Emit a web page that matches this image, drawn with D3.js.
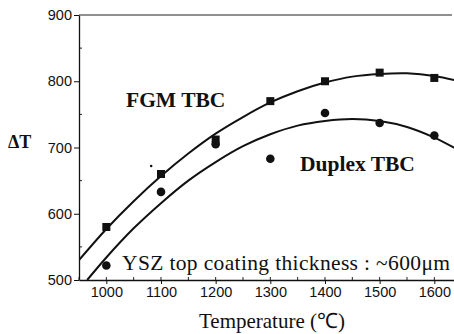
<!DOCTYPE html>
<html>
<head>
<meta charset="utf-8">
<script src="https://cdn.jsdelivr.net/npm/d3@7"></script>
<style>
  body { margin: 0; background: #fff; }
  svg text { fill: #111; }
</style>
</head>
<body>
<div id="chart"></div>
<script>
// measured points
const temps = [1000, 1100, 1200, 1300, 1400, 1500, 1600];
const fgmValues = [580, 660, 712, 770, 800, 813, 805];
const duplexValues = [522, 633, 705, 683, 752, 737, 718];

// fitted curves
const fgmFitT = [950, 1000, 1050, 1100, 1150, 1200, 1250, 1300, 1350, 1400, 1450, 1500, 1550, 1600, 1640];
const fgmFitV = [530, 577, 619, 657, 691, 721, 746, 768, 785, 798, 807, 811, 812, 808, 801];
const duplexFitT = [965, 1000, 1050, 1100, 1150, 1200, 1250, 1300, 1350, 1400, 1450, 1500, 1550, 1600, 1640];
const duplexFitV = [500, 534, 578, 616, 650, 678, 702, 720, 733, 740, 743, 740, 731, 715, 698];

// stray dot in the scan
const strayT = [1082];
const strayV = [672];

const xTicks = [1000, 1100, 1200, 1300, 1400, 1500, 1600];
const yTicks = [500, 600, 700, 800, 900];

const W = 454, H = 334;
const margin = {top: 15, right: 0, bottom: 54, left: 79};
const iw = W - margin.left - margin.right;
const ih = H - margin.top - margin.bottom;

const svg = d3.select('#chart').append('svg')
    .attr('width', W)
    .attr('height', H);

const x = d3.scaleLinear().domain([950, 1636]).range([0, iw]);
const y = d3.scaleLinear().domain([500, 900]).range([ih, 0]);

const g = svg.append('g')
    .attr('transform', `translate(${margin.left},${margin.top})`);

// clip so curves stop at the frame
g.append('clipPath').attr('id', 'clip')
    .append('rect').attr('width', iw).attr('height', ih);

// minor ticks (inward)
const xMinor = d3.range(950, 1650, 50);
const yMinor = d3.range(550, 900, 100);
g.selectAll('.xminor').data(xMinor).enter().append('line')
    .attr('x1', d => x(d)).attr('x2', d => x(d))
    .attr('y1', ih).attr('y2', ih - 3)
    .attr('stroke', '#222').attr('stroke-width', 1);
g.selectAll('.yminor').data(yMinor).enter().append('line')
    .attr('x1', 0).attr('x2', 3)
    .attr('y1', d => y(d)).attr('y2', d => y(d))
    .attr('stroke', '#222').attr('stroke-width', 1);

// axes
const xAxis = g.append('g')
    .attr('transform', `translate(0,${ih})`)
    .call(d3.axisBottom(x).tickValues(xTicks).tickFormat(d3.format('d'))
        .tickSize(4).tickPadding(3).tickSizeOuter(0));
const yAxis = g.append('g')
    .call(d3.axisLeft(y).tickValues(yTicks).tickFormat(d3.format('d'))
        .tickSize(5).tickPadding(2).tickSizeOuter(0));

[xAxis, yAxis].forEach(a => {
    a.select('.domain').attr('stroke', '#111').attr('stroke-width', 1.3);
    a.selectAll('.tick line').attr('stroke', '#111');
    a.selectAll('.tick text')
        .attr('font-family', 'Liberation Sans, Arial, sans-serif')
        .attr('font-size', 14.5)
        .attr('fill', '#222');
});

// top frame line
g.append('line')
    .attr('x1', 0).attr('x2', iw - 2)
    .attr('y1', 0).attr('y2', 0)
    .attr('stroke', '#222').attr('stroke-width', 1.2);

// fit curves
const line = d3.line()
    .x(d => x(d[0])).y(d => y(d[1]))
    .curve(d3.curveCatmullRom);

const curves = g.append('g').attr('clip-path', 'url(#clip)');
curves.append('path')
    .datum(d3.zip(fgmFitT, fgmFitV))
    .attr('d', line)
    .attr('fill', 'none').attr('stroke', '#111').attr('stroke-width', 2);
curves.append('path')
    .datum(d3.zip(duplexFitT, duplexFitV))
    .attr('d', line)
    .attr('fill', 'none').attr('stroke', '#111').attr('stroke-width', 2);

// markers
g.selectAll('.sq').data(d3.zip(temps, fgmValues)).enter().append('rect')
    .attr('x', d => x(d[0]) - 4).attr('y', d => y(d[1]) - 4)
    .attr('width', 8).attr('height', 8)
    .attr('fill', '#111');
g.selectAll('.ci').data(d3.zip(temps, duplexValues)).enter().append('circle')
    .attr('cx', d => x(d[0])).attr('cy', d => y(d[1]))
    .attr('r', 4.3)
    .attr('fill', '#111');
g.selectAll('.stray').data(d3.zip(strayT, strayV)).enter().append('circle')
    .attr('cx', d => x(d[0])).attr('cy', d => y(d[1]))
    .attr('r', 1.3)
    .attr('fill', '#111');

// labels
const serif = 'Liberation Serif, Times New Roman, serif';
svg.append('text')
    .attr('x', 126).attr('y', 107)
    .attr('font-family', serif).attr('font-weight', 'bold').attr('font-size', 21.5)
    .text('FGM TBC');
svg.append('text')
    .attr('x', 300).attr('y', 171)
    .attr('font-family', serif).attr('font-weight', 'bold').attr('font-size', 21.5)
    .text('Duplex TBC');
svg.append('text')
    .attr('x', 122).attr('y', 270)
    .attr('font-family', serif).attr('font-size', 21.5)
    .attr('textLength', 328)
    .text('YSZ top coating thickness : ~600μm');
svg.append('text')
    .attr('x', 8).attr('y', 148)
    .attr('font-family', serif).attr('font-weight', 'bold').attr('font-size', 18)
    .text('ΔT');
svg.append('text')
    .attr('x', 272).attr('y', 328)
    .attr('text-anchor', 'middle')
    .attr('font-family', serif).attr('font-size', 21)
    .text('Temperature (℃)');
</script>
</body>
</html>
